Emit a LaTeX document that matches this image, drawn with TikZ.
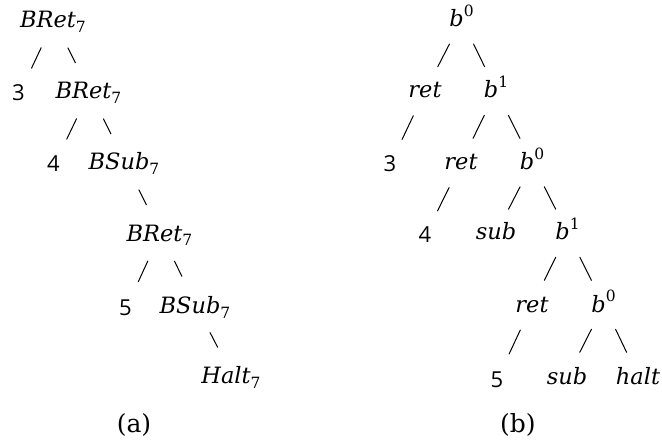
\documentclass[tikz,border=0pt]{standalone}
\usepackage{fontspec}
\setmainfont{DejaVu Serif}
\newfontfamily\digitfont{Open Sans}
\usetikzlibrary{calc}
\newcommand\mysub[1]{\raisebox{-5pt}{\fontsize{15.5}{16}\selectfont\upshape #1}}
\newcommand\mysup[1]{\raisebox{10pt}{\fontsize{15.5}{16}\selectfont\upshape #1}}
\begin{document}
\begin{tikzpicture}[x=1pt,y=-1pt,
  lab/.style={anchor=base, inner sep=0pt, font=\fontsize{22.5}{26}\selectfont\itshape},
  dig/.style={anchor=base, inner sep=0pt, font=\fontsize{22}{26}\selectfont\digitfont},
  capt/.style={anchor=base, inner sep=0pt, font=\fontsize{25}{28}\selectfont},
  edge/.style={line width=1pt, line cap=round}]
\useasboundingbox (0,0) rectangle (662,441);
% ---------- (a) ----------
\node[lab] (A1) at (53,28)    {BRet\mysub{7}};
\node[dig] (A3) at (18.5,101) {3};
\node[lab] (A2) at (88.5,99)  {BRet\mysub{7}};
\node[dig] (A4) at (53.5,172) {4};
\node[lab] (A5) at (124,170)  {BSub\mysub{7}};
\node[lab] (A6) at (159.5,241){BRet\mysub{7}};
\node[dig] (A7) at (125.5,315){5};
\node[lab] (A8) at (195,313)  {BSub\mysub{7}};
\node[lab] (A9) at (231,383)  {Halt\mysub{7}};
\node[capt] (CA) at (134,432) {(a)};
% left edges
\draw[edge] ($(A1.base)!.27!(A3.base)+(-2.5,0)$) -- ($(A1.base)!.55!(A3.base)+(-2.5,0)$);
\draw[edge] ($(A2.base)!.27!(A4.base)+(-2.5,0)$) -- ($(A2.base)!.55!(A4.base)+(-2.5,0)$);
\draw[edge] ($(A6.base)!.27!(A7.base)+(-2.5,0)$) -- ($(A6.base)!.55!(A7.base)+(-2.5,0)$);
% right edges
\draw[edge] ($(A1.base)!.28!(A2.base)+(5,0)$) -- ($(A1.base)!.49!(A2.base)+(5,0)$);
\draw[edge] ($(A2.base)!.28!(A5.base)+(5,0)$) -- ($(A2.base)!.49!(A5.base)+(5,0)$);
\draw[edge] ($(A5.base)!.28!(A6.base)+(5,0)$) -- ($(A5.base)!.49!(A6.base)+(5,0)$);
\draw[edge] ($(A6.base)!.28!(A8.base)+(5,0)$) -- ($(A6.base)!.49!(A8.base)+(5,0)$);
\draw[edge] ($(A8.base)!.28!(A9.base)+(5,0)$) -- ($(A8.base)!.49!(A9.base)+(5,0)$);
% ---------- (b) ----------
\node[lab] (B1)  at (461.5,27) {b\mysup{0}};
\node[lab] (B2)  at (425,98)   {ret};
\node[lab] (B3)  at (496,98)   {b\mysup{1}};
\node[dig] (B4)  at (390,172)  {3};
\node[lab] (B5)  at (461,170)  {ret};
\node[lab] (B6)  at (532,170)  {b\mysup{0}};
\node[dig] (B7)  at (425,243)  {4};
\node[lab] (B8)  at (496,240)  {sub};
\node[lab] (B9)  at (567.5,240){b\mysup{1}};
\node[lab] (B10) at (532,312)  {ret};
\node[lab] (B11) at (603.5,312){b\mysup{0}};
\node[dig] (B12) at (497,387)  {5};
\node[lab] (B13) at (567,384)  {sub};
\node[lab] (B14) at (638,384)  {halt};
\node[capt] (CB) at (518,432)  {(b)};
% left edges
\foreach \p/\c in {B1/B2,B2/B4,B3/B5,B5/B7,B6/B8,B9/B10,B10/B12,B11/B13}
  \draw[edge] ($(\p.base)!.24!(\c.base)+(-3.3,0)$) -- ($(\p.base)!.56!(\c.base)+(-3.3,0)$);
% right edges
\foreach \p/\c in {B1/B3,B3/B6,B6/B9,B9/B11,B11/B14}
  \draw[edge] ($(\p.base)!.24!(\c.base)+(3.8,0)$) -- ($(\p.base)!.56!(\c.base)+(3.8,0)$);
\end{tikzpicture}
\end{document}
